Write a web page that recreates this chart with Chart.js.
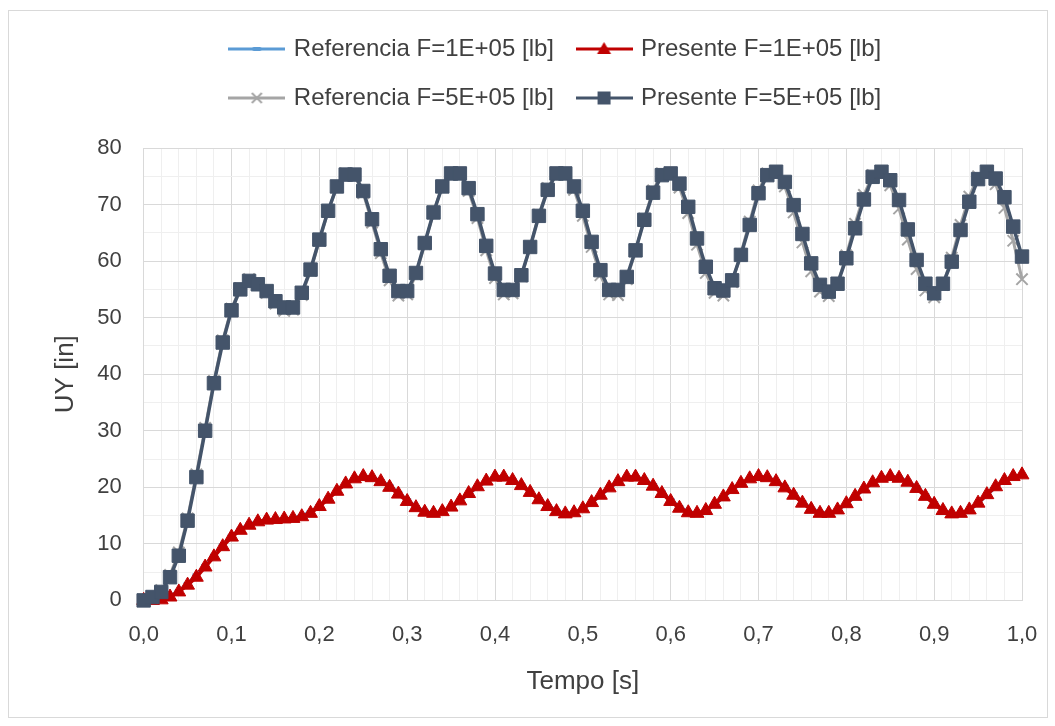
<!DOCTYPE html>
<html>
<head>
<meta charset="utf-8">
<script src="https://cdn.jsdelivr.net/npm/chart.js@4.4.1/dist/chart.umd.min.js"></script>
<style>
  html, body { margin: 0; padding: 0; background: #fff; }
  #frame {
    position: absolute; left: 8px; top: 10px;
    width: 1040px; height: 708px;
    border: 1px solid #d9d9d9; box-sizing: border-box;
  }
  #frame canvas { display: block; }
</style>
</head>
<body>
<div id="frame"><canvas id="chart"></canvas></div>
<script>
// time axis [s]
const tempo = [
  0.00, 0.01, 0.02, 0.03, 0.04, 0.05, 0.06, 0.07, 0.08, 0.09,
  0.10, 0.11, 0.12, 0.13, 0.14, 0.15, 0.16, 0.17, 0.18, 0.19,
  0.20, 0.21, 0.22, 0.23, 0.24, 0.25, 0.26, 0.27, 0.28, 0.29,
  0.30, 0.31, 0.32, 0.33, 0.34, 0.35, 0.36, 0.37, 0.38, 0.39,
  0.40, 0.41, 0.42, 0.43, 0.44, 0.45, 0.46, 0.47, 0.48, 0.49,
  0.50, 0.51, 0.52, 0.53, 0.54, 0.55, 0.56, 0.57, 0.58, 0.59,
  0.60, 0.61, 0.62, 0.63, 0.64, 0.65, 0.66, 0.67, 0.68, 0.69,
  0.70, 0.71, 0.72, 0.73, 0.74, 0.75, 0.76, 0.77, 0.78, 0.79,
  0.80, 0.81, 0.82, 0.83, 0.84, 0.85, 0.86, 0.87, 0.88, 0.89,
  0.90, 0.91, 0.92, 0.93, 0.94, 0.95, 0.96, 0.97, 0.98, 0.99,
  1.00
];

// UY [in] - Referencia F=1E+05 [lb]
const refF1 = [
  0.0, 0.1, 0.3, 0.8, 1.7, 3.0, 4.5, 6.2, 8.0, 9.8,
  11.4, 12.6, 13.5, 14.0, 14.2, 14.3, 14.4, 14.6, 15.0, 15.7,
  16.8, 18.1, 19.4, 20.6, 21.5, 21.9, 21.8, 21.2, 20.3, 19.1,
  17.8, 16.6, 15.8, 15.4, 15.6, 16.4, 17.5, 18.8, 20.0, 21.0,
  21.7, 21.9, 21.4, 20.5, 19.3, 18.0, 16.8, 15.9, 15.4, 15.4,
  16.1, 17.2, 18.5, 19.8, 20.9, 21.8, 21.9, 21.4, 20.5, 19.2,
  17.8, 16.6, 15.7, 15.4, 15.8, 16.9, 18.2, 19.5, 20.6, 21.4,
  21.9, 21.8, 21.2, 20.2, 18.9, 17.5, 16.3, 15.6, 15.4, 15.9,
  17.0, 18.3, 19.6, 20.7, 21.5, 21.9, 21.8, 21.1, 20.1, 18.7,
  17.3, 16.1, 15.4, 15.3, 15.9, 17.1, 18.6, 20.0, 21.1, 21.8,
  22.1
];

// UY [in] - Presente F=1E+05 [lb]
const preF1 = [
  0.0, 0.0, 0.1, 0.6, 1.5, 2.7, 4.1, 5.9, 7.7, 9.5,
  11.2, 12.4, 13.3, 13.9, 14.2, 14.3, 14.4, 14.5, 14.8, 15.4,
  16.6, 17.9, 19.3, 20.6, 21.5, 21.9, 21.7, 21.0, 20.0, 18.8,
  17.5, 16.4, 15.6, 15.4, 15.7, 16.5, 17.6, 18.9, 20.1, 21.1,
  21.8, 21.8, 21.2, 20.3, 19.1, 17.8, 16.6, 15.7, 15.3, 15.5,
  16.2, 17.3, 18.6, 19.9, 21.0, 21.8, 21.8, 21.2, 20.2, 18.9,
  17.5, 16.3, 15.5, 15.4, 15.9, 17.0, 18.3, 19.6, 20.7, 21.5,
  21.9, 21.7, 21.0, 19.9, 18.6, 17.2, 16.1, 15.4, 15.4, 16.0,
  17.1, 18.4, 19.7, 20.8, 21.6, 21.9, 21.6, 20.9, 19.8, 18.4,
  17.0, 15.9, 15.3, 15.4, 16.0, 17.2, 18.7, 20.1, 21.2, 21.9,
  22.2
];

// UY [in] - Referencia F=5E+05 [lb]
const refF5 = [
  0.0, 0.5, 1.8, 4.5, 8.5, 14.5, 22.3, 30.5, 38.8, 46.0,
  51.6, 55.2, 56.8, 56.0, 54.4, 52.5, 51.2, 51.4, 54.0, 58.3,
  63.6, 68.8, 73.2, 75.5, 75.2, 72.0, 66.8, 61.4, 56.6, 53.9,
  54.1, 57.6, 63.0, 68.6, 73.3, 75.6, 75.3, 72.4, 67.6, 61.9,
  57.0, 54.1, 54.3, 57.3, 62.5, 68.2, 72.9, 75.6, 75.3, 72.6,
  68.0, 62.5, 57.5, 54.1, 54.0, 56.8, 61.8, 67.5, 72.5, 75.5,
  75.4, 73.0, 68.5, 62.9, 57.9, 54.4, 53.9, 56.3, 61.3, 67.0,
  72.5, 75.5, 75.7, 73.2, 68.6, 63.3, 58.2, 54.6, 53.8, 56.0,
  61.0, 66.6, 71.7, 75.2, 75.6, 73.4, 69.3, 63.8, 58.6, 54.8,
  53.6, 55.8, 60.6, 66.4, 71.4, 75.0, 75.6, 73.6, 69.4, 63.6,
  56.8
];

// UY [in] - Presente F=5E+05 [lb]
const preF5 = [
  0.0, 0.6, 1.5, 4.1, 7.9, 14.1, 21.8, 30.0, 38.4, 45.6,
  51.3, 55.0, 56.5, 55.9, 54.7, 52.9, 51.8, 51.8, 54.4, 58.5,
  63.8, 68.9, 73.2, 75.3, 75.3, 72.4, 67.4, 62.1, 57.4, 54.7,
  54.7, 57.9, 63.2, 68.6, 73.2, 75.5, 75.5, 72.9, 68.3, 62.7,
  57.8, 54.9, 54.9, 57.5, 62.5, 68.0, 72.6, 75.5, 75.5, 73.2,
  68.9, 63.4, 58.4, 54.9, 54.9, 57.2, 61.9, 67.3, 72.1, 75.2,
  75.5, 73.7, 69.6, 64.0, 59.0, 55.2, 54.8, 56.6, 61.1, 66.4,
  72.0, 75.2, 75.8, 74.0, 69.9, 64.8, 59.6, 55.8, 54.6, 56.0,
  60.5, 65.8, 70.9, 74.9, 75.8, 74.3, 70.8, 65.6, 60.2, 56.0,
  54.3, 56.0, 59.9, 65.5, 70.5, 74.5, 75.8, 74.6, 71.3, 66.1,
  60.8
];

const seriesNames = [
  'Referencia F=1E+05 [lb]',
  'Presente F=1E+05 [lb]',
  'Referencia F=5E+05 [lb]',
  'Presente F=5E+05 [lb]'
];
const xTickLabels = ['0,0', '0,1', '0,2', '0,3', '0,4', '0,5', '0,6', '0,7', '0,8', '0,9', '1,0'];
const yTickLabels = ['0', '10', '20', '30', '40', '50', '60', '70', '80'];

const BLUE = '#5b9bd5';
const RED = '#c00000';
const GRAY = '#a5a5a5';
const SLATE = '#44546a';
const TEXT = '#404040';
const FONT = "'Liberation Sans', Arial, sans-serif";

function pts(values) {
  return tempo.map((t, i) => ({ x: t, y: values[i] }));
}

// legend symbol: short line with the series marker in the middle
function legendIcon(color, marker) {
  const c = document.createElement('canvas');
  c.width = 57; c.height = 18;
  const g = c.getContext('2d');
  g.strokeStyle = color; g.fillStyle = color; g.lineWidth = 3;
  g.beginPath(); g.moveTo(0, 9); g.lineTo(57, 9); g.stroke();
  const cx = 28.5, cy = 9;
  g.beginPath();
  if (marker === 'rect') {
    g.fillRect(cx - 6.5, cy - 6.5, 13, 13);
  } else if (marker === 'triangle') {
    g.moveTo(cx, cy - 7); g.lineTo(cx + 7, cy + 5); g.lineTo(cx - 7, cy + 5); g.closePath(); g.fill();
  } else if (marker === 'cross') {
    g.lineWidth = 2;
    g.moveTo(cx - 5, cy - 5); g.lineTo(cx + 5, cy + 5);
    g.moveTo(cx + 5, cy - 5); g.lineTo(cx - 5, cy + 5); g.stroke();
  } else {
    g.lineWidth = 4;
    g.moveTo(cx - 4, cy); g.lineTo(cx + 4, cy); g.stroke();
  }
  return c;
}
const icons = [
  legendIcon(BLUE, 'dash'),
  legendIcon(RED, 'triangle'),
  legendIcon(GRAY, 'cross'),
  legendIcon(SLATE, 'rect')
];

// extra room under the legend and a small horizontal shift, like the original
const legendSpacer = {
  id: 'legendSpacer',
  beforeLayout(chart) {
    const lg = chart.legend;
    if (lg && !lg._spaced) {
      const fit = lg.fit;
      lg.fit = function () { fit.call(this); this.height += 28; };
      lg._spaced = true;
    }
  },
  afterLayout(chart) {
    if (chart.legend) { chart.legend.left += 36; chart.legend.right += 36; }
  }
};

new Chart(document.getElementById('chart'), {
  type: 'line',
  data: {
    datasets: [
      {
        label: seriesNames[0], data: pts(refF1), order: 4,
        borderColor: BLUE, backgroundColor: BLUE, borderWidth: 3,
        pointStyle: 'line', pointRadius: 4, pointBorderWidth: 3, pointBorderColor: BLUE
      },
      {
        label: seriesNames[1], data: pts(preF1), order: 3,
        borderColor: RED, backgroundColor: RED, borderWidth: 3.5,
        pointStyle: 'triangle', pointRadius: 8, pointBorderWidth: 1
      },
      {
        label: seriesNames[2], data: pts(refF5), order: 2,
        borderColor: GRAY, backgroundColor: GRAY, borderWidth: 3,
        pointStyle: 'crossRot', pointRadius: 8, pointBorderWidth: 2
      },
      {
        label: seriesNames[3], data: pts(preF5), order: 1,
        borderColor: SLATE, backgroundColor: SLATE, borderWidth: 3.5,
        pointStyle: 'rect', pointRadius: 9.5, pointBorderWidth: 1
      }
    ]
  },
  options: {
    responsive: true,
    maintainAspectRatio: false,
    animation: false,
    clip: false,
    layout: { padding: { top: 1, left: 10, right: 25, bottom: 10 } },
    elements: { line: { tension: 0 } },
    plugins: {
      tooltip: { enabled: false },
      legend: {
        position: 'top',
        labels: {
          usePointStyle: true,
          pointStyleWidth: 50,
          padding: 25,
          color: TEXT,
          font: { family: FONT, size: 24 },
          sort: (a, b) => a.datasetIndex - b.datasetIndex,
          generateLabels(chart) {
            const items = Chart.defaults.plugins.legend.labels.generateLabels(chart);
            items.forEach(it => { it.pointStyle = icons[it.datasetIndex]; });
            return items;
          }
        }
      }
    },
    scales: {
      x: {
        type: 'linear',
        min: 0, max: 1,
        afterFit: s => { s.paddingRight = 25; },
        ticks: {
          stepSize: 0.02,
          autoSkip: false, maxRotation: 0,
          padding: 21,
          color: TEXT,
          font: { family: FONT, size: 22 },
          callback: (v, i) => (i % 5 === 0 ? xTickLabels[i / 5] : '')
        },
        grid: {
          drawTicks: false,
          color: c => (c.index % 5 === 0 ? '#d9d9d9' : '#efefef')
        },
        border: { color: '#d9d9d9' },
        title: {
          display: true, text: 'Tempo [s]', color: TEXT,
          font: { family: FONT, size: 26 },
          padding: { top: -3, bottom: 10 }
        }
      },
      y: {
        min: 0, max: 80,
        ticks: {
          stepSize: 5,
          autoSkip: false,
          padding: 22,
          color: TEXT,
          font: { family: FONT, size: 22 },
          callback: (v, i) => (i % 2 === 0 ? yTickLabels[i / 2] : '')
        },
        grid: {
          drawTicks: false,
          color: c => (c.index % 2 === 0 ? '#d9d9d9' : '#efefef')
        },
        border: { color: '#d9d9d9' },
        title: {
          display: true, text: 'UY [in]', color: TEXT,
          font: { family: FONT, size: 26 },
          padding: { top: 31, bottom: -6 }
        }
      }
    }
  },
  plugins: [legendSpacer]
});
</script>
</body>
</html>
